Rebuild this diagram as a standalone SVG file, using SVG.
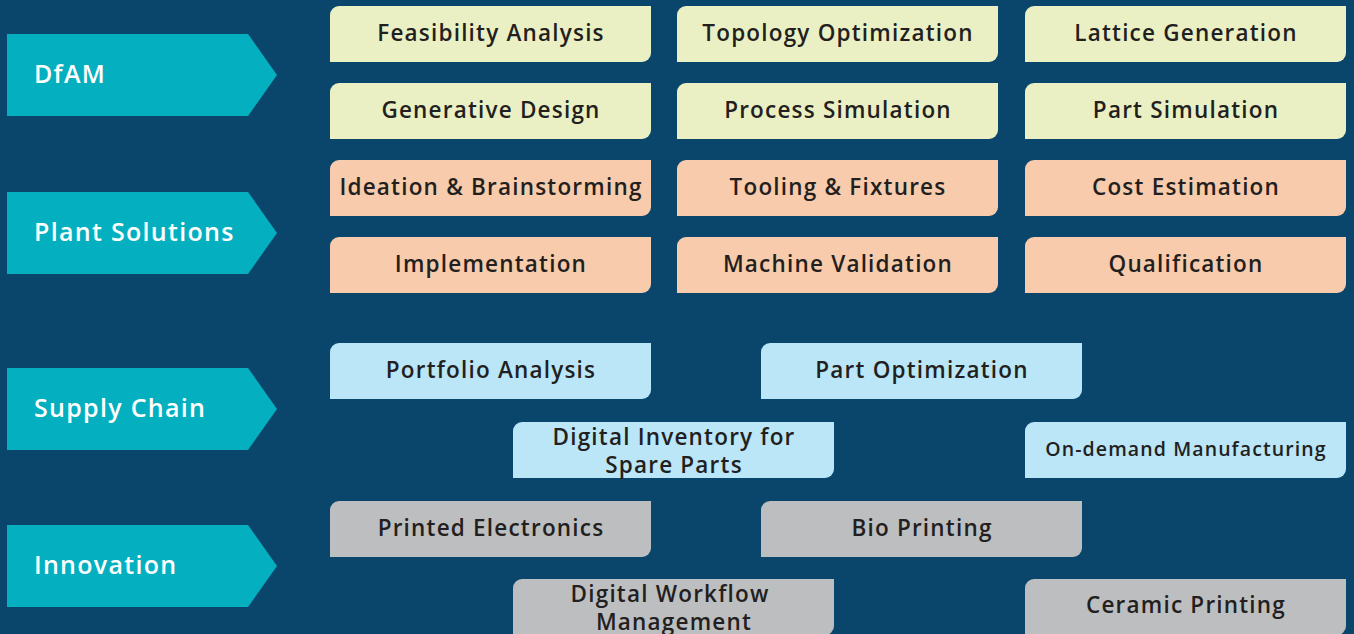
<svg xmlns="http://www.w3.org/2000/svg" xmlns:xlink="http://www.w3.org/1999/xlink" width="1354" height="634" viewBox="0 0 1354 634">
<defs>
<path id="box" d="M0,9 A9,9 0 0 1 9,0 H321 V47 A9,9 0 0 1 312,56 H0 Z"/>
<path id="arrow" d="M7,0 H248 L277,41 L248,82 H7 Z"/>
<style>
.g{fill:#eaf0c4}.p{fill:#f7cbab}.b{fill:#bae6f8}.s{fill:#bdbec0}
.a{fill:#04b0bf}
.t{font-family:"Open Sans","Liberation Sans",sans-serif;font-weight:600;font-size:22.5px;letter-spacing:1.2px;fill:#231f20;text-anchor:middle}
.at{font-family:"Open Sans","Liberation Sans",sans-serif;font-weight:600;font-size:25px;letter-spacing:1.3px;fill:#ffffff}
</style>
</defs>
<rect width="1354" height="634" fill="#0a466c"/>
<g id="cat-dfam"><use xlink:href="#arrow" class="a" y="34"/><text class="at" x="34" y="83">DfAM</text></g>
<g id="cat-plant"><use xlink:href="#arrow" class="a" y="192"/><text class="at" x="34" y="241">Plant Solutions</text></g>
<g id="cat-supply"><use xlink:href="#arrow" class="a" y="368"/><text class="at" x="34" y="417">Supply Chain</text></g>
<g id="cat-innov"><use xlink:href="#arrow" class="a" y="525"/><text class="at" x="34" y="574">Innovation</text></g>

<g id="n1"><use xlink:href="#box" class="g" x="330" y="6"/><text class="t" x="491" y="41">Feasibility Analysis</text></g>
<g id="n2"><use xlink:href="#box" class="g" x="677" y="6"/><text class="t" x="838" y="41">Topology Optimization</text></g>
<g id="n3"><use xlink:href="#box" class="g" x="1025" y="6"/><text class="t" x="1186" y="41">Lattice Generation</text></g>
<g id="n4"><use xlink:href="#box" class="g" x="330" y="83"/><text class="t" x="491" y="118">Generative Design</text></g>
<g id="n5"><use xlink:href="#box" class="g" x="677" y="83"/><text class="t" x="838" y="118">Process Simulation</text></g>
<g id="n6"><use xlink:href="#box" class="g" x="1025" y="83"/><text class="t" x="1186" y="118">Part Simulation</text></g>

<g id="n7"><use xlink:href="#box" class="p" x="330" y="160"/><text class="t" x="491" y="195">Ideation &amp; Brainstorming</text></g>
<g id="n8"><use xlink:href="#box" class="p" x="677" y="160"/><text class="t" x="838" y="195">Tooling &amp; Fixtures</text></g>
<g id="n9"><use xlink:href="#box" class="p" x="1025" y="160"/><text class="t" x="1186" y="195">Cost Estimation</text></g>
<g id="n10"><use xlink:href="#box" class="p" x="330" y="237"/><text class="t" x="491" y="272">Implementation</text></g>
<g id="n11"><use xlink:href="#box" class="p" x="677" y="237"/><text class="t" x="838" y="272">Machine Validation</text></g>
<g id="n12"><use xlink:href="#box" class="p" x="1025" y="237"/><text class="t" x="1186" y="272">Qualification</text></g>

<g id="n13"><use xlink:href="#box" class="b" x="330" y="343"/><text class="t" x="491" y="378">Portfolio Analysis</text></g>
<g id="n14"><use xlink:href="#box" class="b" x="761" y="343"/><text class="t" x="922" y="378">Part Optimization</text></g>
<g id="n15"><use xlink:href="#box" class="b" x="513" y="422"/><text class="t" x="674" y="445">Digital Inventory for</text><text class="t" x="674" y="473">Spare Parts</text></g>
<g id="n16"><use xlink:href="#box" class="b" x="1025" y="422"/><text class="t" x="1186" y="456" style="font-size:19.5px;letter-spacing:1.1px">On-demand Manufacturing</text></g>

<g id="n17"><use xlink:href="#box" class="s" x="330" y="501"/><text class="t" x="491" y="536">Printed Electronics</text></g>
<g id="n18"><use xlink:href="#box" class="s" x="761" y="501"/><text class="t" x="922" y="536">Bio Printing</text></g>
<g id="n19"><use xlink:href="#box" class="s" x="513" y="579"/><text class="t" x="670" y="602">Digital Workflow</text><text class="t" x="674" y="630">Management</text></g>
<g id="n20"><use xlink:href="#box" class="s" x="1025" y="579"/><text class="t" x="1186" y="613">Ceramic Printing</text></g>
<g id="connectors"></g>
</svg>
